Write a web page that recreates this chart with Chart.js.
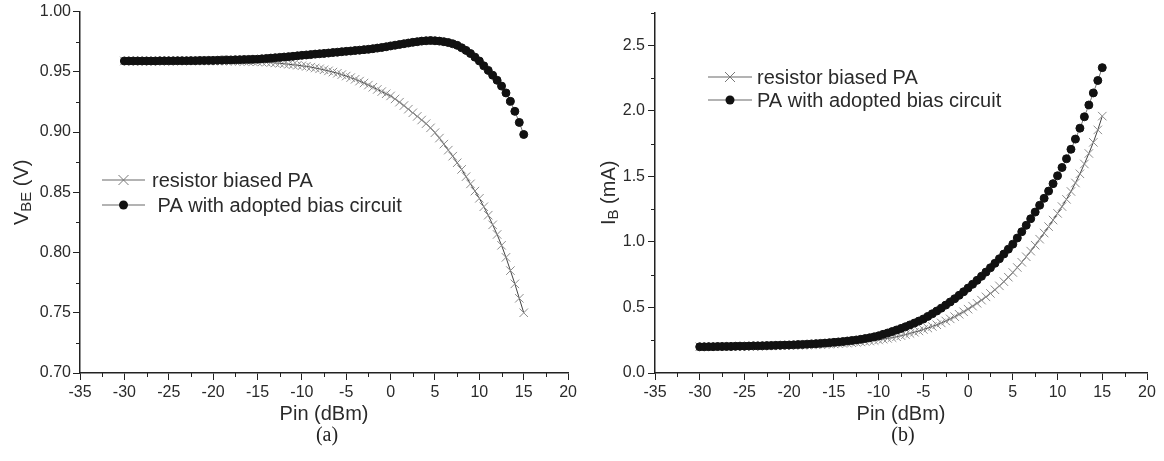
<!DOCTYPE html>
<html>
<head>
<meta charset="utf-8">
<script src="https://cdn.jsdelivr.net/npm/chart.js@4.4.1/dist/chart.umd.min.js"></script>
<style>
  html, body { margin: 0; padding: 0; background: #fff; }
  #wrap { position: relative; width: 1164px; height: 461px; overflow: hidden; }
  .box { position: absolute; top: 0; }
  #boxA { left: 0; }
  #boxB { left: 580px; }
  .cap {
    position: absolute; top: 423px; transform: translateX(-50%);
    font-family: "Liberation Serif", "Times New Roman", serif; font-size: 20px; color: #222;
  }
</style>
</head>
<body>
<div id="wrap">
  <div class="box" id="boxA"><canvas id="chartA" width="580" height="461"></canvas></div>
  <div class="box" id="boxB"><canvas id="chartB" width="584" height="461"></canvas></div>
  <div class="cap" style="left:327px">(a)</div>
  <div class="cap" style="left:903px">(b)</div>
</div>
<script>
// input power, dBm
const pin = [
  -30, -29.5, -29, -28.5, -28, -27.5, -27, -26.5, -26, -25.5, -25, -24.5, -24, -23.5, -23, -22.5, -22, -21.5, -21, -20.5, -20,
  -19.5, -19, -18.5, -18, -17.5, -17, -16.5, -16, -15.5, -15,
  -14.5, -14, -13.5, -13, -12.5, -12, -11.5, -11, -10.5, -10,
  -9.5, -9, -8.5, -8, -7.5, -7, -6.5, -6, -5.5, -5,
  -4.5, -4, -3.5, -3, -2.5, -2, -1.5, -1, -0.5, 0,
  0.5, 1, 1.5, 2, 2.5, 3, 3.5, 4, 4.5, 5,
  5.5, 6, 6.5, 7, 7.5, 8, 8.5, 9, 9.5, 10,
  10.5, 11, 11.5, 12, 12.5, 13, 13.5, 14, 14.5, 15,
];

// (a) VBE, V
const vbeResistor = [
  0.959, 0.959, 0.9591, 0.959, 0.959, 0.9591, 0.959, 0.959, 0.959, 0.9591, 0.959, 0.959, 0.959, 0.959, 0.959, 0.959, 0.959, 0.959, 0.959, 0.959, 0.959,
  0.959, 0.959, 0.9589, 0.9589, 0.9588, 0.9588, 0.9587, 0.9586, 0.9585, 0.9584,
  0.9582, 0.958, 0.9577, 0.9574, 0.9571, 0.9567, 0.9563, 0.9559, 0.9555, 0.955,
  0.9545, 0.9539, 0.9532, 0.9525, 0.9517, 0.9508, 0.9498, 0.9488, 0.9477, 0.9465,
  0.9452, 0.9438, 0.9423, 0.9407, 0.939, 0.9372, 0.9354, 0.9336, 0.9318, 0.93,
  0.9275, 0.9248, 0.922, 0.919, 0.916, 0.913, 0.91, 0.907, 0.9035, 0.8995,
  0.895, 0.89, 0.885, 0.88, 0.8745, 0.869, 0.863, 0.857, 0.851, 0.845,
  0.838, 0.831, 0.823, 0.815, 0.806, 0.796, 0.785, 0.774, 0.762, 0.75,
];
const vbeAdopted = [
  0.959, 0.959, 0.959, 0.959, 0.959, 0.959, 0.959, 0.959, 0.9591, 0.9591, 0.9591, 0.9591, 0.9592, 0.9592, 0.9592, 0.9593, 0.9593, 0.9594, 0.9594, 0.9595, 0.9595,
  0.9596, 0.9597, 0.9598, 0.9599, 0.96, 0.9601, 0.9602, 0.9603, 0.9604, 0.9605,
  0.9608, 0.9611, 0.9614, 0.9617, 0.962, 0.9623, 0.9626, 0.9629, 0.9633, 0.9637,
  0.964, 0.9643, 0.9647, 0.965, 0.9653, 0.9656, 0.966, 0.9663, 0.9667, 0.967,
  0.9673, 0.9677, 0.968, 0.9684, 0.9687, 0.9692, 0.9697, 0.9702, 0.9708, 0.9715,
  0.9721, 0.9727, 0.9733, 0.9739, 0.9745, 0.975, 0.9755, 0.9758, 0.976, 0.9758,
  0.9755, 0.975, 0.9743, 0.9733, 0.972, 0.97, 0.9678, 0.9652, 0.9622, 0.959,
  0.955, 0.9512, 0.9472, 0.943, 0.9382, 0.9325, 0.9255, 0.9172, 0.908, 0.898,
];

// (b) IB, mA
const ibResistor = [
  0.2, 0.2, 0.2, 0.201, 0.201, 0.201, 0.202, 0.202, 0.202, 0.203, 0.203, 0.204, 0.204, 0.205, 0.205, 0.206, 0.206, 0.207, 0.208, 0.208, 0.209,
  0.21, 0.211, 0.212, 0.213, 0.214, 0.215, 0.217, 0.218, 0.22, 0.222,
  0.224, 0.226, 0.228, 0.231, 0.234, 0.237, 0.24, 0.244, 0.248, 0.252,
  0.258, 0.264, 0.27, 0.277, 0.285, 0.293, 0.302, 0.311, 0.321, 0.332,
  0.343, 0.355, 0.368, 0.382, 0.397, 0.413, 0.43, 0.448, 0.467, 0.487,
  0.51, 0.532, 0.556, 0.581, 0.607, 0.635, 0.665, 0.697, 0.731, 0.767,
  0.805, 0.845, 0.887, 0.93, 0.975, 1.021, 1.068, 1.117, 1.167, 1.218,
  1.27, 1.325, 1.385, 1.45, 1.52, 1.595, 1.675, 1.76, 1.855, 1.96,
];
const ibAdopted = [
  0.2, 0.2, 0.201, 0.201, 0.202, 0.202, 0.203, 0.203, 0.204, 0.205, 0.205, 0.206, 0.207, 0.207, 0.208, 0.209, 0.21, 0.211, 0.212, 0.213, 0.214,
  0.215, 0.217, 0.218, 0.22, 0.222, 0.224, 0.226, 0.228, 0.231, 0.234,
  0.237, 0.24, 0.244, 0.248, 0.252, 0.257, 0.263, 0.269, 0.276, 0.284,
  0.295, 0.305, 0.316, 0.328, 0.34, 0.353, 0.367, 0.381, 0.396, 0.412,
  0.432, 0.452, 0.473, 0.495, 0.518, 0.542, 0.567, 0.593, 0.62, 0.648,
  0.677, 0.707, 0.738, 0.77, 0.803, 0.837, 0.872, 0.908, 0.945, 0.983,
  1.03, 1.078, 1.127, 1.177, 1.228, 1.28, 1.333, 1.388, 1.445, 1.505,
  1.568, 1.635, 1.707, 1.785, 1.868, 1.955, 2.045, 2.137, 2.232, 2.33,
];

const namesA = ["resistor biased PA", " PA with adopted bias circuit"];
const namesB = ["resistor biased PA", "PA with adopted bias circuit"];

const axisColor = "#222";
const textColor = "#2a2a2a";
const tickFont = { family: "'Liberation Sans', Arial, sans-serif", size: 16 };
const titleFont = { family: "'Liberation Sans', Arial, sans-serif", size: 20 };

function isMultiple(v, step) {
  const r = v / step;
  return Math.abs(r - Math.round(r)) < 1e-6;
}

// minor ticks, y title with subscript, legend placed inside the plot
const extrasPlugin = {
  id: "extras",
  afterDraw(chart, args, opts) {
    const ctx = chart.ctx;
    const xs = chart.scales.x;
    const ys = chart.scales.y;
    ctx.save();
    ctx.strokeStyle = axisColor;
    ctx.lineWidth = 1;
    ctx.beginPath();
    xs.ticks.forEach((t) => {
      if (isMultiple(t.value, opts.xMajor)) return;
      const px = Math.round(xs.getPixelForValue(t.value)) + 0.5;
      ctx.moveTo(px, ys.bottom);
      ctx.lineTo(px, ys.bottom + 4);
    });
    ys.ticks.forEach((t) => {
      if (isMultiple(t.value, opts.yMajor)) return;
      const py = Math.round(ys.getPixelForValue(t.value)) + 0.5;
      ctx.moveTo(xs.left, py);
      ctx.lineTo(xs.left - 4, py);
    });
    ctx.stroke();

    // rotated y title
    const yt = opts.yTitle;
    ctx.translate(yt.x, (ys.top + ys.bottom) / 2);
    ctx.rotate(-Math.PI / 2);
    ctx.fillStyle = textColor;
    ctx.textBaseline = "alphabetic";
    const big = "20px 'Liberation Sans', Arial, sans-serif";
    const small = "15px 'Liberation Sans', Arial, sans-serif";
    ctx.font = big;
    const w1 = ctx.measureText(yt.main).width;
    const w3 = ctx.measureText(yt.rest).width;
    ctx.font = small;
    const w2 = ctx.measureText(yt.sub).width;
    let x = -(w1 + w2 + w3) / 2;
    ctx.font = big;
    ctx.fillText(yt.main, x, 7);
    x += w1;
    ctx.font = small;
    ctx.fillText(yt.sub, x, 10);
    x += w2;
    ctx.font = big;
    ctx.fillText(yt.rest, x, 7);
    ctx.restore();

    // legend
    const lg = opts.legend;
    ctx.save();
    ctx.font = "20px 'Liberation Sans', Arial, sans-serif";
    ctx.textBaseline = "middle";
    chart.data.datasets.forEach((ds) => {
      const row = ds.legendRow;
      const y = lg.rows[row];
      const mid = (lg.x0 + lg.x1) / 2;
      ctx.strokeStyle = "#9a9a9a";
      ctx.lineWidth = 1.5;
      ctx.beginPath();
      ctx.moveTo(lg.x0, y);
      ctx.lineTo(lg.x1, y);
      ctx.stroke();
      if (ds.pointStyle === "circle") {
        ctx.fillStyle = "#111";
        ctx.beginPath();
        ctx.arc(mid, y, 4.5, 0, Math.PI * 2);
        ctx.fill();
      } else {
        ctx.strokeStyle = "#777";
        ctx.lineWidth = 1;
        ctx.beginPath();
        ctx.moveTo(mid - 5, y - 5);
        ctx.lineTo(mid + 5, y + 5);
        ctx.moveTo(mid - 5, y + 5);
        ctx.lineTo(mid + 5, y - 5);
        ctx.stroke();
      }
      ctx.fillStyle = textColor;
      ctx.fillText(lg.names[row], lg.textX, y + 1);
    });
    ctx.restore();
  },
};

function buildChart(canvasId, cfg) {
  const ctx = document.getElementById(canvasId).getContext("2d");
  return new Chart(ctx, {
    type: "line",
    data: {
      datasets: [
        {
          label: cfg.legend.names[1],
          legendRow: 1,
          data: pin.map((p, i) => ({ x: p, y: cfg.adopted[i] })),
          borderColor: "#777",
          borderWidth: 1,
          pointStyle: "circle",
          pointRadius: 4,
          pointBorderWidth: 1,
          pointBackgroundColor: "#111",
          pointBorderColor: "#111",
          tension: 0,
        },
        {
          label: cfg.legend.names[0],
          legendRow: 0,
          data: pin.map((p, i) => ({ x: p, y: cfg.resistor[i] })),
          borderColor: "#444",
          borderWidth: 1,
          pointStyle: "crossRot",
          pointRadius: 6,
          pointBorderWidth: 1,
          pointBorderColor: "#8c8c8c",
          pointBackgroundColor: "rgba(0,0,0,0)",
          tension: 0,
        },
      ],
    },
    options: {
      responsive: false,
      animation: false,
      events: [],
      layout: { padding: cfg.padding },
      plugins: {
        legend: { display: false },
        tooltip: { enabled: false },
        extras: {
          xMajor: 5,
          yMajor: cfg.yMajor,
          yTitle: cfg.yTitle,
          legend: cfg.legend,
        },
      },
      scales: {
        x: {
          type: "linear",
          min: -35,
          max: 20,
          afterFit: (scale) => { scale.height = 53; },
          border: { display: true, color: axisColor, width: 1.5 },
          grid: {
            drawOnChartArea: false,
            drawTicks: true,
            tickLength: 7,
            tickWidth: 1,
            tickColor: (c) => (c.tick && isMultiple(c.tick.value, 5) ? axisColor : "rgba(0,0,0,0)"),
          },
          ticks: {
            stepSize: 2.5,
            autoSkip: false,
            maxRotation: 0,
            padding: 3,
            color: textColor,
            font: tickFont,
            callback: (v) => (isMultiple(v, 5) ? String(Math.round(v)) : ""),
          },
          title: {
            display: true,
            text: "Pin (dBm)",
            color: textColor,
            font: titleFont,
            padding: { top: 0, bottom: 0 },
          },
        },
        y: {
          type: "linear",
          min: cfg.yMin,
          max: cfg.yMax,
          afterFit: (scale) => { scale.width = cfg.yWidth; },
          border: { display: true, color: axisColor, width: 1.5 },
          grid: {
            drawOnChartArea: false,
            drawTicks: true,
            tickLength: 7,
            tickWidth: 1,
            tickColor: (c) => (c.tick && isMultiple(c.tick.value, cfg.yMajor) ? axisColor : "rgba(0,0,0,0)"),
          },
          ticks: {
            stepSize: cfg.yStep,
            autoSkip: false,
            padding: cfg.yPad,
            color: textColor,
            font: tickFont,
            callback: (v) => (isMultiple(v, cfg.yMajor) ? Number(v).toFixed(cfg.yDigits) : ""),
          },
        },
      },
    },
    plugins: [extrasPlugin],
  });
}

buildChart("chartA", {
  adopted: vbeAdopted,
  resistor: vbeResistor,
  yMin: 0.7,
  yMax: 1.0,
  yStep: 0.025,
  yMajor: 0.05,
  yDigits: 2,
  yWidth: 80,
  yPad: 2,
  padding: { top: 10, right: 7, left: 0, bottom: 35 },
  yTitle: { x: 21, main: "V", sub: "BE", rest: " (V)" },
  legend: { x0: 102, x1: 145, textX: 152, rows: [180, 205], names: namesA },
});

buildChart("chartB", {
  adopted: ibAdopted,
  resistor: ibResistor,
  yMin: 0,
  yMax: 2.75,
  yStep: 0.25,
  yMajor: 0.5,
  yDigits: 1,
  yWidth: 75,
  yPad: 3,
  padding: { top: 10, right: 17, left: 0, bottom: 35 },
  yTitle: { x: 28, main: "I", sub: "B", rest: " (mA)" },
  legend: { x0: 128, x1: 172, textX: 177, rows: [77, 100], names: namesB },
});
</script>
</body>
</html>
